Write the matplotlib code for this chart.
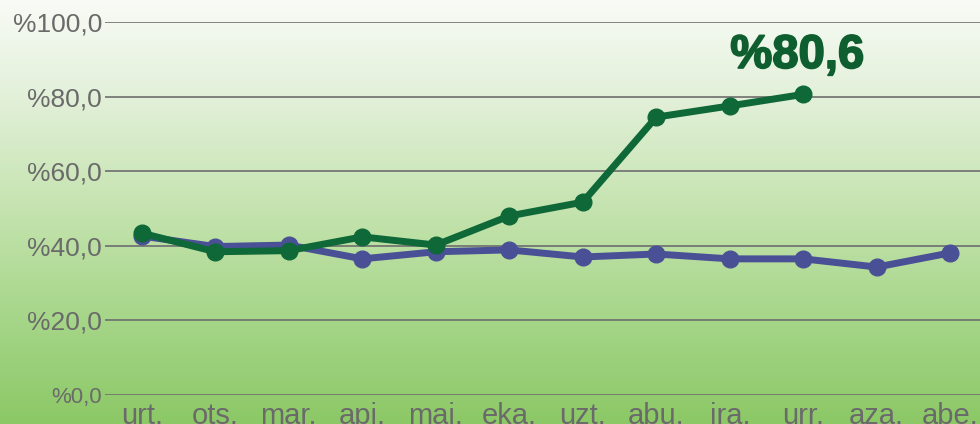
import numpy as np
import matplotlib
matplotlib.use('Agg')
import matplotlib.pyplot as plt
import matplotlib.patheffects as pe
from matplotlib.colors import LinearSegmentedColormap

months = ['urt.', 'ots.', 'mar.', 'api.', 'mai.', 'eka.', 'uzt.', 'abu.', 'ira.', 'urr.', 'aza.', 'abe.']
blue_vals = [42.6, 39.8, 40.2, 36.5, 38.4, 38.9, 37.0, 37.8, 36.5, 36.5, 34.3, 38.1]
green_vals = [43.4, 38.4, 38.7, 42.4, 40.2, 48.0, 51.7, 74.5, 77.5, 80.6]
yticks = [0, 20, 40, 60, 80, 100]
ytick_labels = ['%0,0', '%20,0', '%40,0', '%60,0', '%80,0', '%100,0']
last_label = '%80,6'

plt.rcParams['font.family'] = ['Liberation Sans', 'DejaVu Sans']

fig = plt.figure(figsize=(9.8, 4.24), dpi=100)

# gradient background over the whole figure
bg = fig.add_axes([0, 0, 1, 1], zorder=0)
cmap = LinearSegmentedColormap.from_list('bg', ['#f8fbf6', '#e0efd6', '#c4e3ae', '#a6d689', '#8cc866'])
bg.imshow(np.linspace(0, 1, 256).reshape(-1, 1), aspect='auto', cmap=cmap, extent=[0, 1, 0, 1])
bg.set_axis_off()

ax = fig.add_axes([105 / 980, 29 / 424, 882 / 980, 373 / 424], zorder=1)
ax.patch.set_alpha(0)
for s in ax.spines.values():
    s.set_visible(False)

x = np.arange(len(months))
ax.plot(x, blue_vals, color='#4a5096', lw=5, marker='o', ms=12, zorder=3, solid_capstyle='round')
ax.plot(x[:len(green_vals)], green_vals, color='#0e6837', lw=5, marker='o', ms=12, zorder=4, solid_capstyle='round')

ax.set_xlim(-0.5, 11.5)
ax.set_ylim(0, 100)
ax.set_yticks(yticks)
ax.set_yticklabels(ytick_labels)
ax.set_xticks(x)
ax.set_xticklabels(months)
ax.tick_params(axis='both', length=0, colors='#6a6a6a')
ax.tick_params(axis='y', pad=2, labelsize=19)
ax.tick_params(axis='x', pad=5, labelsize=21)
ax.get_yticklabels()[0].set_fontsize(16)
for yv in yticks:
    ax.axhline(yv, color='#6e6e6e', lw=1.2, zorder=1)

ax.text(x[len(green_vals) - 1] - 0.08, 85.0, last_label, color='#0f5e30', fontsize=34,
        fontweight='bold', ha='center', va='bottom',
        path_effects=[pe.withStroke(linewidth=1.3, foreground='#0f5e30')])

fig.savefig('out.png', dpi=100)
